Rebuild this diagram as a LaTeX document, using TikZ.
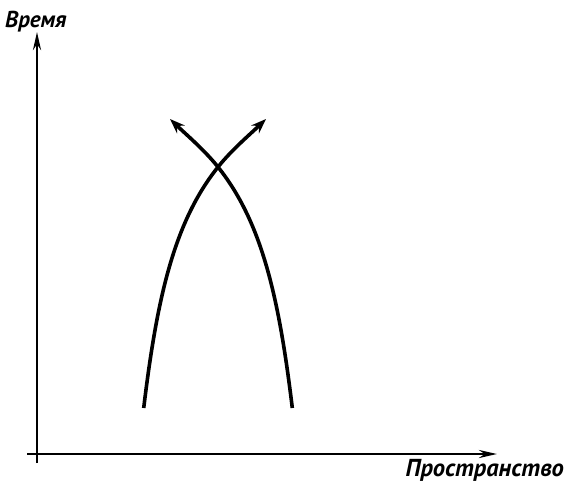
\documentclass[tikz,border=0pt]{standalone}
\usepackage{fontspec}
\setmainfont{PT Sans}
\usetikzlibrary{arrows.meta}
\tikzset{
  axisline/.style={line width=2.8pt, -{Stealth[length=18pt,width=8pt]}},
  worldline/.style={line width=3.6pt, -{Stealth[length=15pt,width=11pt,inset=5pt]}},
  axislabel/.style={font=\bfseries\itshape\fontsize{24.5}{24.5}\selectfont, inner sep=0pt}
}
\begin{document}
\begin{tikzpicture}[x=1pt,y=-1pt]
\useasboundingbox (0,0) rectangle (567,482);
% axes
\coordinate (ytop) at (37,32);
\coordinate (ybot) at (37,463);
\coordinate (xleft) at (27,454);
\coordinate (xright) at (497,454);
\draw[axisline] (ybot) -- (ytop);
\draw[axisline] (xleft) -- (xright);
\node[axislabel, font=\bfseries\itshape\fontsize{23}{23}\selectfont, anchor=base west] (t) at (5,27) {Время};
\node[axislabel, anchor=base east] (s) at (564,476) {Пространство};
% world lines
\coordinate (X) at (218,167);
\coordinate (a0) at (143.7,408);
\coordinate (a1) at (266,119);
\coordinate (b0) at (292.3,408);
\coordinate (b1) at (170,119);
\draw[worldline] (a0) .. controls (157,298) and (174,222) .. (X)
  .. controls (231.75,149.8) and (250.2,134.2) .. (a1);
\draw[worldline] (b0) .. controls (279,298) and (262,222) .. (X)
  .. controls (204.25,149.8) and (185.8,134.2) .. (b1);
\end{tikzpicture}
\end{document}
